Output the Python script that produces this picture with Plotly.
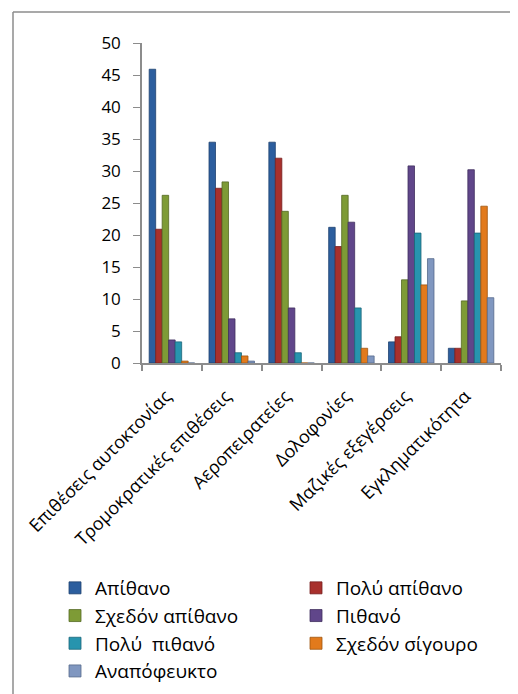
import plotly.graph_objects as go

categories = ["Επιθέσεις αυτοκτονίας", "Τρομοκρατικές επιθέσεις", "Αεροπειρατείες",
              "Δολοφονίες", "Μαζικές εξεγέρσεις", "Εγκληματικότητα"]

series_names = ["Απίθανο", "Πολύ απίθανο", "Σχεδόν απίθανο", "Πιθανό",
                "Πολύ  πιθανό", "Σχεδόν σίγουρο", "Αναπόφευκτο"]

apithano = [45.9, 34.5, 34.5, 21.2, 3.3, 2.3]
poly_apithano = [20.9, 27.3, 32.0, 18.2, 4.1, 2.3]
schedon_apithano = [26.2, 28.3, 23.7, 26.2, 13.0, 9.7]
pithano = [3.6, 6.9, 8.6, 22.0, 30.8, 30.2]
poly_pithano = [3.3, 1.6, 1.6, 8.6, 20.3, 20.3]
schedon_sigouro = [0.3, 1.1, 0.0, 2.3, 12.2, 24.5]
anapofeukto = [0.0, 0.3, 0.0, 1.1, 16.3, 10.2]

values = [apithano, poly_apithano, schedon_apithano, pithano,
          poly_pithano, schedon_sigouro, anapofeukto]

colors = ["#2C5E9E", "#A8302C", "#7E9B36", "#60468A", "#2794AE", "#E27A1C", "#8097C0"]
edges = ["#1F4270", "#762020", "#566A24", "#402E5E", "#1A6678", "#A05510", "#56698C"]

FONT = "Open Sans"

xpos = list(range(len(categories)))
label_pos = [p - 0.1 for p in xpos]
boundaries = [p - 0.5 for p in xpos] + [xpos[-1] + 0.5]

fig = go.Figure()
for i, (name, vals, c, e) in enumerate(zip(series_names, values, colors, edges)):
    fig.add_trace(go.Bar(name=name, x=xpos, y=vals,
                         legend="legend" if i % 2 == 0 else "legend2",
                         legendgroup=f"g{i}",
                         marker=dict(color=c, line=dict(color=e, width=0.8))))

leg_common = dict(orientation="v", yanchor="top", xanchor="left",
                  font=dict(family=FONT, size=19, color="black"),
                  itemwidth=30, tracegroupgap=6, traceorder="normal",
                  bgcolor="rgba(0,0,0,0)", borderwidth=0)

# page body adds an 8px offset; the figure is sized to fit the 518x694 window
fig.update_layout(
    width=510, height=686,
    barmode="group", bargap=0.24, bargroupgap=0.0,
    paper_bgcolor="white", plot_bgcolor="white",
    margin=dict(l=134, r=17, t=35, b=331, autoexpand=False),
    font=dict(family=FONT, size=15, color="black"),
    showlegend=True,
    legend=dict(x=(55 - 142) / 359, y=(363 - 569) / 320, **leg_common),
    legend2=dict(x=(296 - 142) / 359, y=(363 - 569) / 320, **leg_common),
    xaxis=dict(type="linear", range=[-0.5, len(categories) - 0.5],
               tickmode="array", tickvals=label_pos, ticktext=categories,
               showgrid=False, showline=True, linecolor="#8C8C8C", linewidth=1.5,
               ticks="", tickangle=-45, automargin=False, ticklabelstandoff=14,
               zeroline=False,
               minor=dict(tickmode="array", tickvals=boundaries, ticks="outside",
                          ticklen=6, tickcolor="#8C8C8C", tickwidth=1.5, showgrid=False),
               tickfont=dict(family=FONT, size=18, color="black")),
    yaxis=dict(range=[0, 50], dtick=5, showgrid=False, showline=True, linecolor="#8C8C8C",
               linewidth=1.5, ticks="outside", ticklen=7, tickcolor="#8C8C8C",
               automargin=False, ticklabelstandoff=9,
               tickfont=dict(family=FONT, size=17, color="black"), zeroline=False),
    shapes=[
        dict(type="line", xref="paper", yref="paper",
             x0=(13 - 142) / 359, x1=(530 - 142) / 359,
             y0=(363 - 12) / 320, y1=(363 - 12) / 320,
             line=dict(color="#8C8C8C", width=1.5)),
        dict(type="line", xref="paper", yref="paper",
             x0=(13 - 142) / 359, x1=(13 - 142) / 359,
             y0=(363 - 12) / 320, y1=(363 - 700) / 320,
             line=dict(color="#8C8C8C", width=1.5)),
    ],
)

fig.write_html("out.html")
